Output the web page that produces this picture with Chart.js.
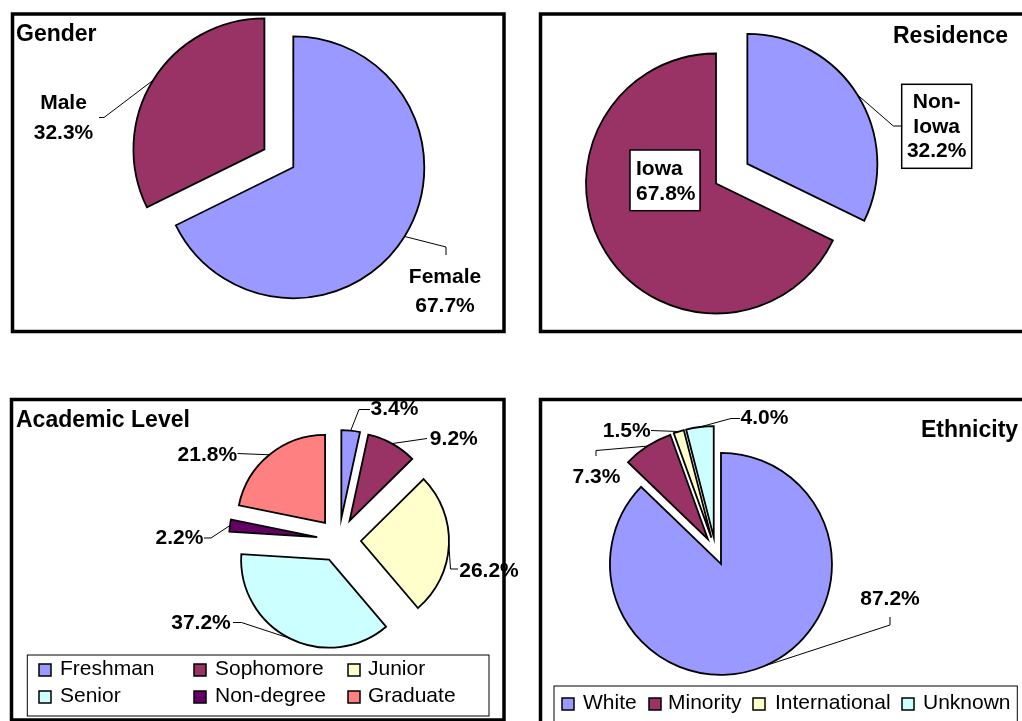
<!DOCTYPE html>
<html>
<head>
<meta charset="utf-8">
<script src="https://cdn.jsdelivr.net/npm/chart.js@4.4.1/dist/chart.umd.min.js"></script>
<style>
  html, body { margin: 0; padding: 0; background: #fff; overflow: hidden; }
  #page { position: relative; width: 1022px; height: 721px; }
  #page canvas { position: absolute; left: 0; top: 0; }
</style>
</head>
<body>
<div id="page">
  <canvas id="gender" width="1022" height="721"></canvas>
  <canvas id="residence" width="1022" height="721"></canvas>
  <canvas id="level" width="1022" height="721"></canvas>
  <canvas id="ethnicity" width="1022" height="721"></canvas>
</div>
<script>
// --- data (percent of students) ---
const genderLabels = ["Female", "Male"];
const genderValues = [67.7, 32.3];

const residenceLabels = ["Non-Iowa", "Iowa"];
const residenceValues = [32.2, 67.8];

const levelLabels = ["Freshman", "Sophomore", "Junior", "Senior", "Non-degree", "Graduate"];
const levelValues = [3.4, 9.2, 26.2, 37.2, 2.2, 21.8];

const ethnicityLabels = ["White", "Minority", "International", "Unknown"];
const ethnicityValues = [87.2, 7.3, 1.5, 4.0];

// excel-ish palette
const BLUE = "#9999FF", PLUM = "#993366", CREAM = "#FFFFCC", AQUA = "#CCFFFF",
      PURPLE = "#660066", SALMON = "#FF8080";

const W = 1022, H = 721;
const FONT = '"Liberation Sans", Arial, sans-serif';
const TITLE_FONT = "bold 23px " + FONT;
const LABEL_FONT = "bold 21px " + FONT;
const LEGEND_FONT = "21px " + FONT;

// chart area shrunk to a point so the pie centre lands where we want it
function centerPadding(cx, cy) {
  return { left: cx - 5, right: W - cx - 5, top: cy - 5, bottom: H - cy - 5 };
}

// pulls slices out, then draws labels, leader lines, legend and frame
function makeDecor(spec) {
  return {
    id: "pieDecor",
    beforeDatasetsDraw(chart) {
      const a = chart.chartArea;
      const cx = (a.left + a.right) / 2, cy = (a.top + a.bottom) / 2;
      chart.getDatasetMeta(0).data.forEach((arc, i) => {
        const d = spec.explode[i] || 0;
        const mid = (arc.startAngle + arc.endAngle) / 2;
        arc.x = cx + Math.cos(mid) * d;
        arc.y = cy + Math.sin(mid) * d;
      });
    },
    afterDraw(chart) {
      const ctx = chart.ctx;
      const meta = chart.getDatasetMeta(0);
      const ds = chart.data.datasets[0];
      const names = chart.data.labels;
      ctx.save();

      spec.labels.forEach((lab, i) => {
        const arc = meta.data[i];
        const mid = (arc.startAngle + arc.endAngle) / 2;
        const ex = arc.x + Math.cos(mid) * arc.outerRadius;
        const ey = arc.y + Math.sin(mid) * arc.outerRadius;
        if (lab.path) {
          ctx.beginPath();
          ctx.moveTo(lab.path[0][0], lab.path[0][1]);
          lab.path.slice(1).forEach(p => ctx.lineTo(p[0], p[1]));
          ctx.lineTo(ex, ey);
          ctx.strokeStyle = "#000";
          ctx.lineWidth = 1;
          ctx.stroke();
        }
        if (lab.box) {
          const b = lab.box;
          ctx.fillStyle = "#fff";
          ctx.fillRect(b[0], b[1], b[2] - b[0], b[3] - b[1]);
          ctx.strokeStyle = "#000";
          ctx.lineWidth = 1.5;
          ctx.strokeRect(b[0], b[1], b[2] - b[0], b[3] - b[1]);
        }
        const pct = ds.data[i].toFixed(1) + "%";
        const lines = spec.showName ? names[i].split(/(?<=-)/).concat(pct) : [pct];
        ctx.font = LABEL_FONT;
        ctx.fillStyle = "#000";
        ctx.textAlign = lab.align || "center";
        ctx.textBaseline = "alphabetic";
        lines.forEach((t, k) => ctx.fillText(t, lab.x, lab.y + k * (lab.lh || 29.5)));
      });

      // title
      ctx.font = TITLE_FONT;
      ctx.textAlign = "left";
      ctx.fillStyle = "#000";
      ctx.fillText(spec.title.text, spec.title.x, spec.title.y);

      // legend
      if (spec.legend) {
        const lg = spec.legend;
        const b = lg.box;
        ctx.strokeStyle = "#000";
        ctx.lineWidth = 1;
        ctx.strokeRect(b[0], b[1], b[2] - b[0], b[3] - b[1]);
        ctx.font = LEGEND_FONT;
        names.forEach((name, i) => {
          const col = i % lg.cols, row = Math.floor(i / lg.cols);
          const mx = lg.markerX[col], my = lg.markerY[row];
          ctx.fillStyle = ds.backgroundColor[i];
          ctx.fillRect(mx, my, 12, 12);
          ctx.lineWidth = 1.5;
          ctx.strokeRect(mx, my, 12, 12);
          ctx.fillStyle = "#000";
          ctx.fillText(name, lg.textX[col], lg.baseY[row]);
        });
      }

      // panel frame
      const p = spec.panel;
      ctx.strokeStyle = "#000";
      ctx.lineWidth = 3.5;
      ctx.strokeRect(p[0], p[1], p[2] - p[0], p[3] - p[1]);
      ctx.restore();
    }
  };
}

function pieChart(id, labels, values, colors, centre, radius, spec) {
  return new Chart(document.getElementById(id), {
    type: "pie",
    data: {
      labels: labels,
      datasets: [{
        data: values,
        backgroundColor: colors,
        borderColor: "#000",
        borderWidth: 1.8,
        borderJoinStyle: "miter"
      }]
    },
    options: {
      responsive: false,
      animation: false,
      events: [],
      radius: radius,
      layout: { padding: centerPadding(centre[0], centre[1]) },
      plugins: { legend: { display: false }, tooltip: { enabled: false } }
    },
    plugins: [makeDecor(spec)]
  });
}

pieChart("gender", genderLabels, genderValues, [BLUE, PLUM], [293.3, 167.3], 131, {
  panel: [12.5, 14, 504, 331.5],
  title: { text: "Gender", x: 16, y: 40.5 },
  explode: [0, 34],
  showName: true,
  labels: [
    { x: 445, y: 282.5, path: [[446, 255], [446, 247]] },
    { x: 63.5, y: 109, path: [[99, 117.5], [104, 117.5]] }
  ]
});

pieChart("residence", residenceLabels, residenceValues, [BLUE, PLUM], [716, 183.5], 130, {
  panel: [540.5, 14, 1040, 331.5],
  title: { text: "Residence", x: 893, y: 42.5 },
  explode: [37, 0],
  showName: true,
  labels: [
    { x: 936.7, y: 108.3, lh: 24.5, box: [901.7, 84.3, 971.7, 168.3], path: [[901.7, 126], [893.3, 126]] },
    { x: 636, y: 175, lh: 25, align: "left", box: [630, 150, 700, 210.7] }
  ]
});

pieChart("level", levelLabels, levelValues, [BLUE, PLUM, CREAM, AQUA, PURPLE, SALMON], [339, 540], 88, {
  panel: [11.5, 399.5, 504, 720],
  title: { text: "Academic Level", x: 16, y: 426.5 },
  explode: [22, 22, 22, 22, 22, 22],
  showName: false,
  labels: [
    { x: 394.5, y: 415, path: [[370, 409.5], [359, 409.5]] },
    { x: 453.8, y: 445, path: [[427, 438.5]] },
    { x: 489, y: 576.5, path: [[458, 569], [450.5, 569]] },
    { x: 201, y: 628.5, path: [[233, 622.5], [241.5, 622.5]] },
    { x: 179.5, y: 544, path: [[204, 538], [211, 538]] },
    { x: 207.3, y: 460.7, path: [[237.5, 453.5]] }
  ],
  legend: {
    box: [27.3, 655, 489, 716],
    cols: 3,
    markerX: [39, 194, 348], textX: [60, 215, 368],
    markerY: [664, 691], baseY: [675, 701.7]
  }
});

pieChart("ethnicity", ethnicityLabels, ethnicityValues, [BLUE, PLUM, CREAM, AQUA], [715.5, 551], 111, {
  panel: [540.5, 399.5, 1040, 760],
  title: { text: "Ethnicity", x: 921, y: 436.7 },
  explode: [14, 14, 14, 14],
  showName: false,
  labels: [
    { x: 890, y: 605, path: [[890, 617], [890, 625]] },
    { x: 596.5, y: 482.7, path: [[596, 456], [596, 450.5]] },
    { x: 626.7, y: 436.7, path: [[651, 430.5]] },
    { x: 764.5, y: 424, path: [[740, 418.5], [731, 418.5]] }
  ],
  legend: {
    box: [554, 686, 1017.3, 760],
    cols: 4,
    markerX: [562, 649, 753, 902], textX: [583, 668, 775, 923],
    markerY: [698], baseY: [709.3]
  }
});
</script>
</body>
</html>
